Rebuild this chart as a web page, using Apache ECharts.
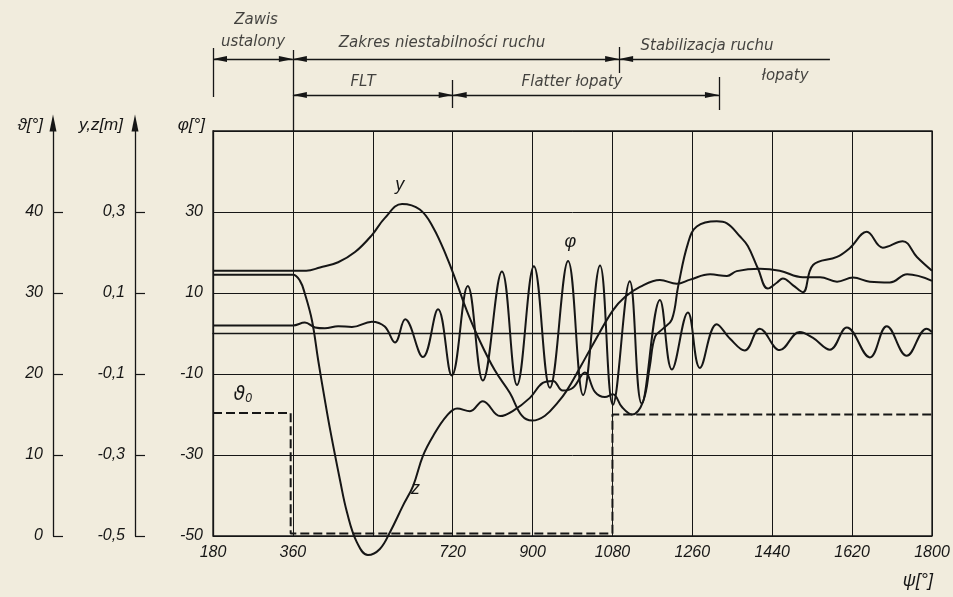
<!DOCTYPE html>
<html lang="pl">
<head>
<meta charset="UTF-8">
<title>Flatter łopaty - przebiegi ψ</title>
<script src="https://cdn.jsdelivr.net/npm/echarts@6/dist/echarts.min.js"></script>
</head>
<body style="margin:0;background:#f1ecdd">
<div id="main" style="width:953px;height:597px;"></div>
<script>
// azimuth ψ [deg] on the x axis
var psiHidden = [540];

// y [m]
var yPsi = [180, 390, 421, 462, 500, 538, 567, 606, 646, 676, 707, 730, 752, 781, 815, 849, 876, 899, 928, 957,
    977, 1007, 1036, 1081, 1108, 1142, 1187, 1225, 1255, 1300, 1338, 1360, 1412, 1457, 1509, 1548, 1586, 1622, 1660, 1705,
    1744, 1800];
var yVal = [0.155, 0.155, 0.163, 0.176, 0.201, 0.243, 0.285, 0.320, 0.306, 0.262, 0.188, 0.122, 0.056, -0.018, -0.091, -0.147, -0.203, -0.215, -0.203, -0.170,
    -0.141, -0.084, -0.027, 0.057, 0.090, 0.115, 0.132, 0.123, 0.133, 0.146, 0.142, 0.154, 0.160, 0.155, 0.139, 0.139, 0.128, 0.138, 0.128, 0.126,
    0.146, 0.130];

// z [m]
var zPsi = [180, 360, 376, 387, 403, 417, 432, 444, 466, 482, 504, 529, 556, 579, 608, 631, 653, 676, 707, 730,
    759, 788, 827, 856, 894, 923, 946, 968, 991, 1018, 1041, 1063, 1081, 1101, 1124, 1149, 1164, 1176, 1194, 1214,
    1228, 1250, 1270, 1315, 1338, 1367, 1385, 1408, 1430, 1451, 1464, 1487, 1509, 1532, 1586, 1615, 1653, 1689, 1734, 1766,
    1800];
var zVal = [0.145, 0.145, 0.130, 0.098, 0.032, -0.066, -0.164, -0.238, -0.361, -0.442, -0.515, -0.547, -0.532, -0.490, -0.425, -0.376, -0.302, -0.253, -0.203, -0.185,
    -0.192, -0.167, -0.204, -0.191, -0.159, -0.122, -0.117, -0.141, -0.134, -0.096, -0.145, -0.157, -0.150, -0.181, -0.200, -0.168, -0.082, -0.008, 0.012, 0.035,
    0.116, 0.222, 0.264, 0.277, 0.272, 0.240, 0.216, 0.160, 0.111, 0.126, 0.136, 0.119, 0.102, 0.169, 0.189, 0.211, 0.251, 0.212, 0.228, 0.189,
    0.155];

// φ [deg]
var phiPsi = [180, 360, 387, 410, 432, 462, 493, 538, 567, 590, 613, 653, 687, 718, 754, 788, 831, 865, 903, 939,
    980, 1014, 1052, 1081, 1119, 1146, 1187, 1214, 1250, 1277, 1315, 1345, 1378, 1412, 1457, 1502, 1532, 1570, 1608, 1660,
    1698, 1743, 1788, 1800];
var phiVal = [2.0, 2.0, 2.7, 1.5, 1.3, 1.8, 1.6, 2.9, 1.7, -2.2, 3.5, -5.8, 6.0, -10.4, 11.7, -11.6, 15.3, -12.7, 16.6, -13.4,
    17.9, -15.2, 16.8, -17.6, 12.9, -17.3, 8.3, -8.9, 5.2, -8.5, 2.3, -1.3, -4.2, 1.2, -4.1, 0.4, -1.1, -4.0, 1.5, -5.9,
    1.8, -5.5, 1.2, 0.4];

// ϑ [deg] (dashed, stepped)
var thetaPsi = [180, 355, 355, 1080, 1080, 1800];
var thetaVal = [15.2, 15.2, 0.3, 0.3, 15, 15];

// phases marked above the plot
var bandFrom = [180, 360, 1095, 360, 720];
var bandTo = [360, 1095, 1570, 720, 1320];
var bandEnds = [180, 360, 720, 1095, 1320];

var ink = '#161616';
var font = 'Liberation Sans';

function pairs(xs, vs) {
    return xs.map(function (x, i) { return [x, vs[i]]; });
}
function comma(v) {
    return v.toFixed(1).replace('.', ',');
}
function tag(coord, text, size) {
    return {
        coord: coord, value: text,
        label: { formatter: text, fontSize: size || 18 }
    };
}

var tickText = { fontFamily: font, fontStyle: 'italic', fontSize: 16, color: ink };
var nameText = { fontFamily: font, fontStyle: 'italic', fontSize: 17, color: ink,
    align: 'right', verticalAlign: 'middle' };

// dimension lines: row, arrow at start, arrow at end
var bandRow = [59, 59, 59, 95, 95];
var bandArrows = [[1, 1], [1, 1], [1, 0], [1, 1], [1, 1]];
var endFrom = [48, 50, 80, 47, 77];
var endTo = [97, 131, 108, 73, 110];

var dims = bandFrom.map(function (f, i) {
    return [
        { coord: [f, bandRow[i]], symbol: bandArrows[i][0] ? 'triangle' : 'none' },
        { coord: [bandTo[i], bandRow[i]], symbol: bandArrows[i][1] ? 'triangle' : 'none' }
    ];
});
bandEnds.forEach(function (p, i) {
    dims.push([
        { coord: [p, endFrom[i]], symbol: 'none' },
        { coord: [p, endTo[i]], symbol: 'none' }
    ]);
});

var myChart = echarts.init(document.getElementById('main'));

var markStyle = {
    symbol: 'circle', symbolSize: 1, silent: true,
    itemStyle: { color: 'transparent' },
    label: { show: true, position: 'inside', fontFamily: font, fontStyle: 'italic', color: ink }
};

var option = {
    backgroundColor: '#f1ecdd',
    animation: false,
    grid: [
        { left: 213, right: 21, top: 131, bottom: 61, show: true, borderColor: ink, borderWidth: 1.3, outerBoundsMode: 'none' },
        { left: 213, right: 21, top: 0, height: 131, outerBoundsMode: 'none' }
    ],
    xAxis: [{
        gridIndex: 0, type: 'value', min: 180, max: 1800, interval: 180,
        axisLine: { show: true, lineStyle: { color: ink, width: 1.3 } },
        axisTick: { show: false },
        splitLine: { show: true, lineStyle: { color: ink, width: 1 } },
        axisLabel: Object.assign({ margin: 9, formatter: function (v) {
            return psiHidden.indexOf(v) >= 0 ? '' : String(v);
        } }, tickText)
    }, {
        gridIndex: 1, type: 'value', min: 180, max: 1800, show: false
    }],
    yAxis: [{
        gridIndex: 0, type: 'value', min: -50, max: 50, interval: 20, position: 'left',
        name: 'φ[°]', nameLocation: 'end', nameGap: 6, nameMoveOverlap: false,
        nameTextStyle: Object.assign({ padding: [0, 8, 0, 0] }, nameText),
        axisLine: { show: true, lineStyle: { color: ink, width: 1.3 } },
        axisTick: { show: false },
        splitLine: { show: true, lineStyle: { color: ink, width: 1 } },
        axisLabel: Object.assign({ margin: 10, showMaxLabel: false }, tickText)
    }, {
        gridIndex: 0, type: 'value', min: -0.5, max: 0.5, interval: 0.2, position: 'left', offset: 78,
        name: 'y,z[m]', nameLocation: 'end', nameGap: 6, nameMoveOverlap: false,
        nameTextStyle: Object.assign({ padding: [0, 12, 0, 0] }, nameText),
        axisLine: { show: true, symbol: ['none', 'triangle'], symbolSize: [7, 17], symbolOffset: [0, 8],
            lineStyle: { color: ink, width: 1.3 } },
        axisTick: { show: true, inside: true, length: 10, lineStyle: { color: ink, width: 1.2 } },
        splitLine: { show: false },
        axisLabel: Object.assign({ margin: 10, showMaxLabel: false, formatter: comma }, tickText)
    }, {
        gridIndex: 0, type: 'value', min: 0, max: 50, interval: 10, position: 'left', offset: 160,
        name: 'ϑ[°]', nameLocation: 'end', nameGap: 6, nameMoveOverlap: false,
        nameTextStyle: Object.assign({ padding: [0, 10, 0, 0] }, nameText),
        axisLine: { show: true, symbol: ['none', 'triangle'], symbolSize: [7, 17], symbolOffset: [0, 8],
            lineStyle: { color: ink, width: 1.3 } },
        axisTick: { show: true, inside: true, length: 10, lineStyle: { color: ink, width: 1.2 } },
        splitLine: { show: false },
        axisLabel: Object.assign({ margin: 10, showMaxLabel: false }, tickText)
    }, {
        gridIndex: 1, type: 'value', min: 0, max: 131, inverse: true, show: false
    }],
    graphic: [{
        type: 'text', right: 20, top: 572,
        style: { text: 'ψ[°]', font: 'italic 18px "Liberation Sans", "DejaVu Sans"', fill: ink }
    }],
    series: [{
        name: 'y', type: 'line', xAxisIndex: 0, yAxisIndex: 1, smooth: 0.4, symbol: 'none', clip: false,
        lineStyle: { color: ink, width: 2 },
        data: pairs(yPsi, yVal),
        markPoint: Object.assign({ data: [tag([601, 0.366], 'y')] }, markStyle)
    }, {
        name: 'z', type: 'line', xAxisIndex: 0, yAxisIndex: 1, smooth: 0.4, symbol: 'none', clip: false,
        lineStyle: { color: ink, width: 2 },
        data: pairs(zPsi, zVal),
        markPoint: Object.assign({ data: [tag([636, -0.385], 'z')] }, markStyle)
    }, {
        name: 'φ', type: 'line', xAxisIndex: 0, yAxisIndex: 0, smooth: 0.4, symbol: 'none', clip: false,
        lineStyle: { color: ink, width: 2 },
        data: pairs(phiPsi, phiVal),
        markPoint: Object.assign({ data: [tag([985, 22.5], 'φ')] }, markStyle)
    }, {
        name: 'ϑ', type: 'line', xAxisIndex: 0, yAxisIndex: 2, symbol: 'none', clip: false,
        lineStyle: { color: ink, width: 2, type: [9, 4] },
        data: pairs(thetaPsi, thetaVal),
        markPoint: Object.assign({ data: [{
            coord: [247, 17.4], value: 'ϑ0',
            label: { formatter: '{a|ϑ}{b|0}', rich: {
                a: { fontSize: 19, fontStyle: 'italic', fontFamily: 'DejaVu Sans', color: ink },
                b: { fontSize: 12, fontStyle: 'italic', fontFamily: font, color: ink, padding: [8, 0, 0, 0] }
            } }
        }] }, markStyle)
    }, {
        name: 'fazy', type: 'line', xAxisIndex: 1, yAxisIndex: 3, data: [], silent: true,
        markLine: {
            silent: true, animation: false, symbolSize: [6, 14], symbolOffset: [[0, 7], [0, 7]],
            label: { show: false },
            lineStyle: { color: ink, width: 1.3, type: 'solid' },
            data: dims
        }
    }, {
        name: 'opisy', type: 'scatter', xAxisIndex: 1, yAxisIndex: 3, symbolSize: 1, silent: true,
        itemStyle: { color: 'transparent' },
        label: { show: true, position: 'inside', formatter: '{b}', fontFamily: 'DejaVu Sans', fontStyle: 'italic',
            fontSize: 15, color: ink },
        data: [
            { name: 'Zawis', value: [277, 20] },
            { name: 'ustalony', value: [270, 42] },
            { name: 'Zakres niestabilności ruchu', value: [696, 43] },
            { name: 'Stabilizacja ruchu', value: [1293, 46] },
            { name: 'łopaty', value: [1469, 76] },
            { name: 'FLT', value: [518, 82] },
            { name: 'Flatter łopaty', value: [989, 82] }
        ]
    }]
};

myChart.setOption(option);
</script>
</body>
</html>
